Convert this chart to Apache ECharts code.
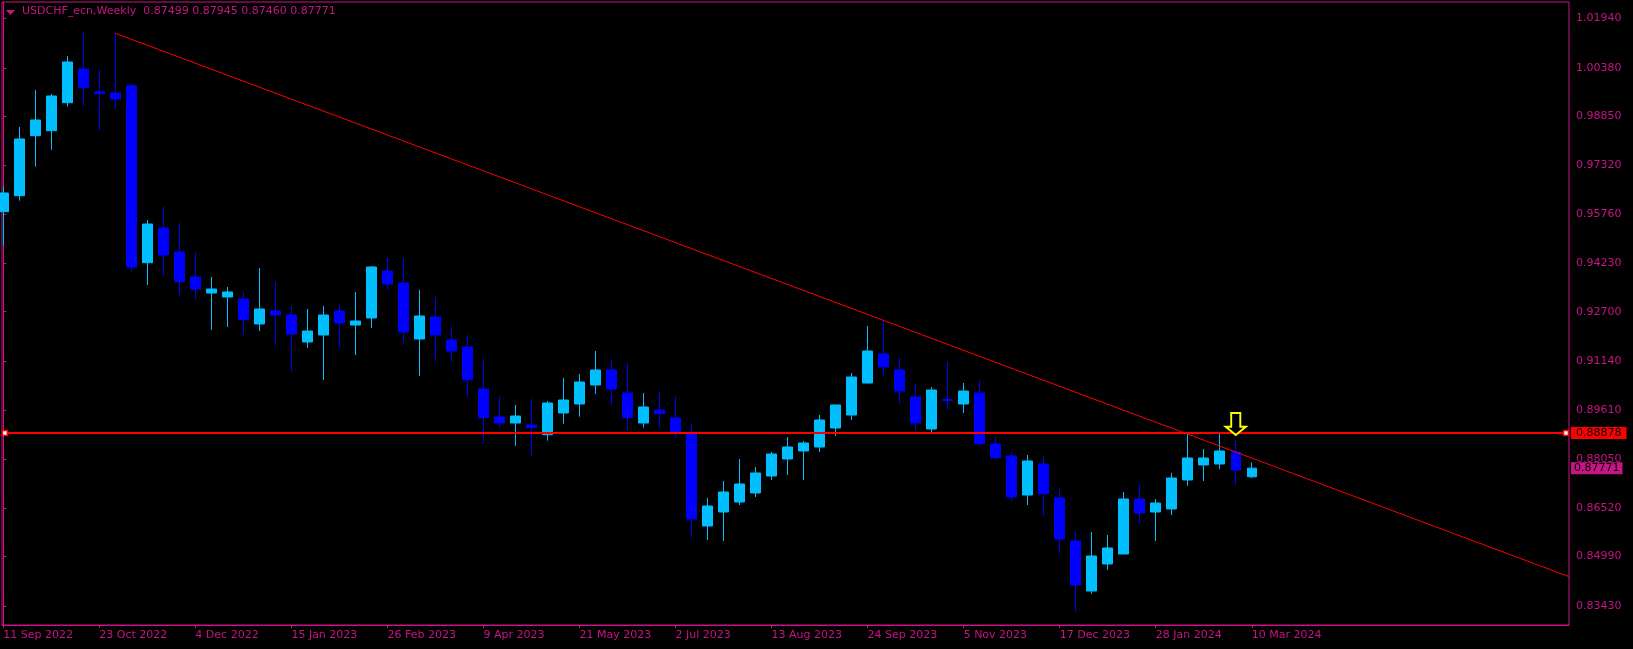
<!DOCTYPE html>
<html>
<head>
<meta charset="utf-8">
<script src="https://cdn.jsdelivr.net/npm/echarts@6/dist/echarts.min.js"></script>
<style>
html,body{margin:0;padding:0;background:#000;}
#chart{width:1633px;height:649px;}
</style>
</head>
<body>
<div id="chart"></div>
<script>
// ---- data (weekly USDCHF, index 0 = week of 11 Sep 2022) ----
const symbolName = 'USDCHF_ecn,Weekly';
const opens = [0.95849,0.96353,0.98242,0.98400,0.99282,1.00343,0.99628,0.99587,0.99817,0.94242,
  0.95335,0.94579,0.93792,0.93288,0.93162,0.93099,0.92312,0.92721,0.92595,0.91745,
  0.91965,0.92721,0.92280,0.92501,0.93981,0.93603,0.91839,0.92532,0.91808,0.91587,
  0.90265,0.89383,0.89194,0.89131,0.88825,0.89509,0.89792,0.90390,0.90863,0.90139,
  0.89194,0.89603,0.89351,0.88857,0.85950,0.86390,0.86705,0.86989,0.87524,0.88060,
  0.88312,0.88438,0.89036,0.89446,0.90453,0.91367,0.90863,0.90013,0.89005,0.89934,
  0.89792,0.90139,0.88532,0.88154,0.86926,0.87902,0.86831,0.85477,0.83902,0.84753,
  0.85068,0.86800,0.86390,0.86485,0.87398,0.87871,0.87902,0.88280,0.87499];
const highs = [0.96636,0.98516,0.99682,0.99556,1.00753,1.01487,1.00312,1.01468,0.99871,0.95587,
  0.96006,0.95493,0.94548,0.93792,0.93477,0.93320,0.94076,0.93644,0.92879,0.92784,
  0.92879,0.92910,0.93320,0.94138,0.94390,0.94390,0.93383,0.93162,0.92217,0.91965,
  0.91209,0.90013,0.89761,0.89950,0.89887,0.90611,0.90737,0.91461,0.91178,0.91083,
  0.90139,0.90170,0.90044,0.89162,0.86831,0.87367,0.88060,0.87808,0.88280,0.88753,
  0.88627,0.89446,0.89761,0.90768,0.92249,0.92438,0.91241,0.90422,0.90327,0.91115,
  0.90453,0.90516,0.88753,0.88280,0.88186,0.88154,0.87115,0.85792,0.85761,0.85666,
  0.87020,0.87272,0.86800,0.87619,0.88879,0.88375,0.88847,0.88658,0.87945];
const lows = [0.94778,0.96195,0.97266,0.97801,0.99156,0.99187,0.98400,0.99083,0.93959,0.93540,
  0.93855,0.93225,0.93099,0.92123,0.92217,0.91965,0.92091,0.91650,0.90831,0.91556,
  0.90548,0.91556,0.91335,0.92186,0.93383,0.91713,0.90674,0.91146,0.91124,0.90013,
  0.88573,0.89046,0.88479,0.88164,0.88636,0.89172,0.89392,0.90107,0.89761,0.88973,
  0.89046,0.89068,0.88731,0.85603,0.85509,0.85477,0.86611,0.86863,0.87398,0.87556,
  0.87398,0.88280,0.88784,0.89288,0.90440,0.90705,0.89824,0.88973,0.88910,0.89603,
  0.89509,0.88479,0.88038,0.86737,0.86611,0.86264,0.85099,0.83272,0.83808,0.84564,
  0.85060,0.86013,0.85477,0.86296,0.87209,0.87367,0.87745,0.87241,0.87460];
const closes = [0.96438,0.98139,0.98737,0.99493,1.00564,0.99754,0.99565,0.99398,0.94107,0.95461,
  0.94485,0.93644,0.93414,0.93414,0.93320,0.92447,0.92784,0.92595,0.91997,0.92091,
  0.92595,0.92343,0.92406,0.94107,0.93572,0.92060,0.92564,0.91965,0.91461,0.90557,
  0.89361,0.89194,0.89414,0.89046,0.89824,0.89918,0.90485,0.90863,0.90265,0.89361,
  0.89698,0.89487,0.88920,0.86170,0.86579,0.87020,0.87272,0.87619,0.88217,0.88438,
  0.88564,0.89288,0.89761,0.90642,0.91461,0.90957,0.90201,0.89194,0.90233,0.89902,
  0.90201,0.88542,0.88101,0.86863,0.87997,0.86967,0.85540,0.84091,0.85005,0.85257,
  0.86800,0.86359,0.86674,0.87461,0.88091,0.88091,0.88312,0.87713,0.87771];

const tickWeeks = [0,6,12,18,24,30,36,42,48,54,60,66,72,78];
const tickLabels = ['11 Sep 2022','23 Oct 2022','4 Dec 2022','15 Jan 2023','26 Feb 2023','9 Apr 2023',
  '21 May 2023','2 Jul 2023','13 Aug 2023','24 Sep 2023','5 Nov 2023','17 Dec 2023','28 Jan 2024','10 Mar 2024'];
const priceTicks = [1.01940,1.00380,0.98850,0.97320,0.95760,0.94230,0.92700,0.91140,0.89610,0.88050,0.86520,0.84990,0.83430];

const hLevel = 0.88878;                 // horizontal resistance line
const hLevelAnchors = [0.1, 97.63];     // its anchor points (week index)
const trendStart = [7, 1.01468];        // trendline points [week index, price]
const trendEnd = [97.82, 0.84354];
const arrowPoint = [77, 0.88816];       // down-arrow signal

// ---- chart ----
const PINK = '#c71585';
const FONT = 'DejaVu Sans';
const labelMap = {};
tickWeeks.forEach((w, i) => { labelMap[w] = tickLabels[i]; });
const last = opens.length - 1;
const candles = opens.map((o, i) => [i, o, closes[i], lows[i], highs[i]]);

const chart = echarts.init(document.getElementById('chart'), null, {renderer: 'canvas'});
chart.setOption({
  backgroundColor: '#000000',
  animation: false,
  title: {
    text: symbolName + '  ' + [opens[last], highs[last], lows[last], closes[last]].map(v => v.toFixed(5)).join(' '),
    left: 22, top: 6, padding: 0,
    textStyle: {color: PINK, fontFamily: FONT, fontSize: 11, fontWeight: 'normal'}
  },
  graphic: [{
    type: 'polygon', silent: true,
    shape: {points: [[6, 10], [15, 10], [10.5, 15]]},
    style: {fill: PINK}
  }],
  grid: {left: 2, right: 64, top: 2, bottom: 24, show: true, borderColor: PINK, borderWidth: 1, containLabel: false},
  xAxis: {
    type: 'value', min: -0.08, max: 97.82,
    splitLine: {show: false},
    axisLine: {show: true, onZero: false, lineStyle: {color: PINK, width: 1}},
    axisTick: {show: true, customValues: tickWeeks, length: 3, lineStyle: {color: PINK}},
    axisLabel: {
      customValues: tickWeeks, formatter: v => labelMap[v] || '',
      align: 'left', margin: 5, color: PINK, fontFamily: FONT, fontSize: 11
    }
  },
  yAxis: {
    type: 'value', position: 'right', min: 0.82831, max: 1.02453, scale: true,
    splitLine: {show: false},
    axisLine: {show: true, lineStyle: {color: PINK, width: 1}},
    axisTick: {show: true, customValues: priceTicks, length: 3, lineStyle: {color: PINK}},
    axisLabel: {
      customValues: priceTicks, formatter: v => v.toFixed(5),
      margin: 7, color: PINK, fontFamily: FONT, fontSize: 11
    }
  },
  series: [
    {
      type: 'candlestick',
      data: candles,
      encode: {x: 0, y: [1, 2, 3, 4]},
      barWidth: 10,
      clip: true,
      itemStyle: {
        color: '#00bfff', color0: '#0000ff',
        borderColor: '#00bfff', borderColor0: '#0000ff',
        borderWidth: 1
      },
      markPoint: {
        silent: true, animation: false,
        data: [{coord: arrowPoint}],
        symbol: 'path://M6,0 L16,0 L16,15 L22,15 L11,24 L0,15 L6,15 Z',
        symbolSize: [20, 22],
        symbolOffset: [0, '-50%'],
        itemStyle: {color: '#000000', borderColor: '#ffff00', borderWidth: 2},
        label: {show: false}
      }
    },
    {
      type: 'line', z: 4, silent: true,
      data: [trendStart, trendEnd],
      showSymbol: false, symbol: 'none',
      lineStyle: {color: '#ff0000', width: 1}
    },
    {
      type: 'scatter', z: 6, silent: true,
      data: hLevelAnchors.map(x => [x, hLevel]),
      symbol: 'rect', symbolSize: 5,
      itemStyle: {color: '#ffffff', borderColor: '#ff0000', borderWidth: 1.5, opacity: 1},
      markLine: {
        silent: true, symbol: ['none', 'none'], z: 5, animation: false, precision: 5,
        data: [
          {
            yAxis: hLevel,
            lineStyle: {color: '#ff0000', width: 2, type: 'solid'},
            label: {
              show: true, position: 'end', distance: 2, formatter: hLevel.toFixed(5),
              backgroundColor: '#ff0000', color: '#000000', padding: [1, 5, 0, 5],
              fontFamily: FONT, fontSize: 11
            }
          },
          {
            yAxis: closes[last],
            lineStyle: {color: 'rgba(0,0,0,0)', width: 0},
            label: {
              show: true, position: 'end', distance: 2, formatter: closes[last].toFixed(5),
              backgroundColor: PINK, color: '#000000', padding: [1, 3, 0, 3],
              fontFamily: FONT, fontSize: 11
            }
          }
        ]
      }
    }
  ]
});
</script>
</body>
</html>
